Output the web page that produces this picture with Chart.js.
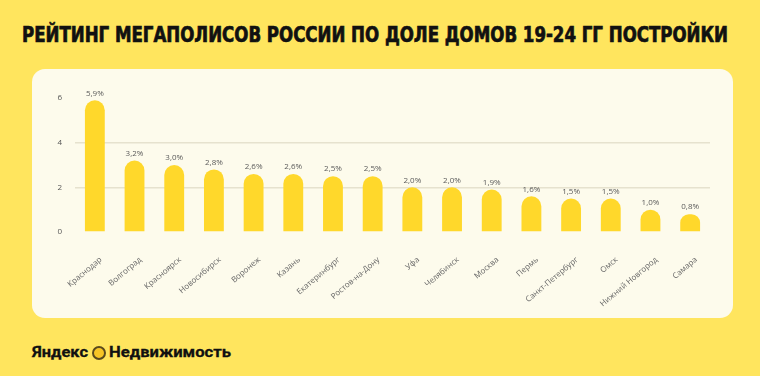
<!DOCTYPE html>
<html>
<head>
<meta charset="utf-8">
<script src="https://cdn.jsdelivr.net/npm/chart.js@4"></script>
<style>
  html, body { margin: 0; padding: 0; }
  body { width: 760px; height: 376px; background: #FFE55E; position: relative; overflow: hidden; }
  .fit { position: absolute; white-space: nowrap; transform-origin: 0 50%; color: #111; }
  #title { left: 22px; top: 22px; font: bold 21px "DejaVu Sans Condensed", "DejaVu Sans", sans-serif; line-height: 26px; -webkit-text-stroke: 0.7px #111; }
  #panel { position: absolute; left: 32px; top: 69px; width: 701px; height: 249px; background: #FDFBEC; border-radius: 13px; }
  #chart { position: absolute; left: 0; top: 0; }
  #brand1 { left: 32px; top: 342px; font: bold 15px Roboto, sans-serif; line-height: 20px; -webkit-text-stroke: 0.3px #111; }
  #brand2 { left: 109px; top: 342px; font: bold 15px Roboto, sans-serif; line-height: 20px; -webkit-text-stroke: 0.3px #111; }
  #logo { position: absolute; left: 92px; top: 346px; width: 10px; height: 10px; border-radius: 50%; background: #F7C525; border: 2px solid #5A4A1C; }
</style>
</head>
<body>
<div id="title" class="fit" data-w="706">РЕЙТИНГ МЕГАПОЛИСОВ РОССИИ ПО ДОЛЕ ДОМОВ 19-24 ГГ ПОСТРОЙКИ</div>
<div id="panel"><canvas id="chart" width="701" height="249"></canvas></div>
<div id="brand1" class="fit" data-w="56">Яндекс</div>
<div id="logo"></div>
<div id="brand2" class="fit" data-w="122">Недвижимость</div>
<script>
const cities = ['Краснодар', 'Волгоград', 'Красноярск', 'Новосибирск', 'Воронеж', 'Казань',
  'Екатеринбург', 'Ростов-на-Дону', 'Уфа', 'Челябинск', 'Москва', 'Пермь',
  'Санкт-Петербург', 'Омск', 'Нижний Новгород', 'Самара']
const shares = [5.9, 3.2, 3.0, 2.8, 2.6, 2.6, 2.5, 2.5, 2.0, 2.0, 1.9, 1.6, 1.5, 1.5, 1.0, 0.8]
const yTicks = [0, 2, 4, 6]

document.querySelectorAll('.fit').forEach(el => {
    const w = el.getBoundingClientRect().width
    el.style.transform = `scaleX(${el.dataset.w / w})`
})

// подписи значений над столбиками
const valueLabels = {
    id: 'valueLabels',
    afterDatasetsDraw(chart) {
        const ctx = chart.ctx
        const meta = chart.getDatasetMeta(0)
        ctx.save()
        ctx.font = '8px "Open Sans", sans-serif'
        ctx.fillStyle = '#5a5a5a'
        ctx.textAlign = 'center'
        ctx.textBaseline = 'bottom'
        meta.data.forEach((bar, i) => {
            ctx.fillText(shares[i].toFixed(1).replace('.', ',') + '%', bar.x, bar.y - 3)
        })
        ctx.restore()
    }
}

const ctx = document.getElementById('chart').getContext('2d')
new Chart(ctx, {
    type: 'bar',
    data: {
        labels: cities,
        datasets: [{
            data: shares,
            backgroundColor: '#FFD82B',
            borderSkipped: 'bottom',
            borderRadius: { topLeft: 10, topRight: 10, bottomLeft: 0, bottomRight: 0 },
            barPercentage: 0.5,
            categoryPercentage: 1
        }]
    },
    options: {
        responsive: false,
        animation: false,
        layout: { padding: { left: 18, right: 23, top: 29, bottom: 0 } },
        scales: {
            y: {
                min: 0,
                max: 6,
                afterFit: (scale) => { scale.width = 25 },
                afterBuildTicks: (scale) => { scale.ticks = yTicks.map(v => ({ value: v })) },
                border: { display: false },
                grid: {
                    drawTicks: false,
                    color: (c) => (c.tick.value === 2 || c.tick.value === 4) ? '#E6E2CE' : 'rgba(0,0,0,0)',
                    lineWidth: 1.5
                },
                ticks: {
                    padding: 13,
                    color: '#555',
                    font: { family: 'Open Sans', size: 8 }
                }
            },
            x: {
                afterFit: (scale) => { scale.height = 86 },
                border: { display: false },
                grid: { display: false },
                ticks: {
                    minRotation: 40,
                    maxRotation: 40,
                    autoSkip: false,
                    padding: 15,
                    labelOffset: 6,
                    color: '#666',
                    font: { family: 'Open Sans', size: 8 }
                }
            }
        },
        plugins: {
            legend: { display: false },
            tooltip: { enabled: false }
        }
    },
    plugins: [valueLabels]
})
</script>
</body>
</html>
